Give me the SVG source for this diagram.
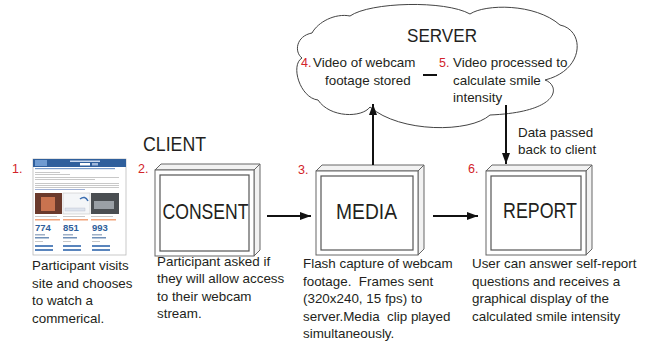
<svg xmlns="http://www.w3.org/2000/svg" width="652" height="348" viewBox="0 0 652 348">
<style>
  text { font-family: "Liberation Sans", Arial, sans-serif; fill: #231f20; white-space: pre; }
  .body { font-size: 13.4px; }
  .num { font-size: 12.5px; fill: #d2232a; }
  .big { font-size: 22px; }
  .bevel { fill: #f2f2f2; stroke: #666; stroke-width: 1; }
  .face { fill: #fff; stroke: #666; stroke-width: 1; }
  .inner { fill: #fff; stroke: #555; stroke-width: 1.2; }
  .conn { stroke: #111; stroke-width: 2; fill: none; }
  .cloud { fill: #fff; stroke: #444; stroke-width: 1; }
  .gl { fill: #c8c8c8; }
</style>
<defs>
  <marker id="ah" markerUnits="userSpaceOnUse" markerWidth="12" markerHeight="10" refX="11" refY="5" orient="auto">
    <path d="M0,1 L11,5 L0,9 z" fill="#111"/>
  </marker>
</defs>

<rect width="652" height="348" fill="#fff"/>

<!-- Server cloud -->
<g id="server">
  <path class="cloud" d="M318,100 C300,98 290,65 302,58 C294,52 296,36 312,33 C318,22 335,13 350,16 C370,2 445,0 470,14 C485,4 535,3 560,25 C585,30 585,70 545,80 C560,85 562,112 490,115 C470,133 400,133 370,107 C362,118 330,118 318,100 Z"/>
  <text x="407" y="42" font-size="19" textLength="70" lengthAdjust="spacingAndGlyphs">SERVER</text>
  <text class="num" x="301" y="67">4.</text>
  <text class="body" x="313" y="67">Video of webcam</text>
  <text class="body" x="325" y="84.5">footage stored</text>
  <text class="num" x="439" y="67">5.</text>
  <text class="body" x="453" y="67">Video processed to</text>
  <text class="body" x="453" y="84.5">calculate smile</text>
  <text class="body" x="453" y="102">intensity</text>
</g>

<!-- Screenshot -->
<g id="site">
  <text class="num" x="12" y="173">1.</text>
  <rect x="33" y="159" width="93" height="96" fill="#fff" stroke="#bbb" stroke-width="0.8"/>
  <rect x="33" y="159" width="93" height="8" fill="#2f5f9c"/>
  <rect x="35" y="160" width="12" height="6" fill="#6f9bd1"/>
  <rect x="70" y="160.5" width="30" height="1.5" fill="#c9d8ee"/>
  <rect x="80" y="163" width="10" height="2.5" fill="#fff"/>
  <rect x="92" y="163" width="6" height="2.5" fill="#9fb8dc"/>
  <rect x="35" y="168" width="80" height="1.2" fill="#7a9cc9"/>
  <rect x="35" y="172" width="25" height="1" class="gl"/>
  <rect x="35" y="174" width="35" height="1" class="gl"/>
  <rect x="35" y="177" width="84" height="1" class="gl"/>
  <rect x="35" y="179" width="60" height="1" class="gl"/>
  <rect x="35" y="183" width="84" height="1" class="gl"/>
  <rect x="35" y="185" width="84" height="1" class="gl"/>
  <rect x="35" y="187" width="84" height="1" class="gl"/>
  <rect x="35" y="189" width="50" height="1" fill="#9fb0d6"/>
  <rect x="35" y="193" width="27" height="21" fill="#6b3a2c"/>
  <rect x="41" y="197" width="14" height="14" fill="#c9734f"/>
  <rect x="63" y="193" width="27" height="21" fill="#f4f6f8" stroke="#bbb" stroke-width="0.5"/>
  <path d="M80,199 q5,-4 8,2" stroke="#3a6db0" stroke-width="1.5" fill="none"/>
  <rect x="65" y="208" width="20" height="3" fill="#dde4ee" stroke="#aab" stroke-width="0.3"/>
  <rect x="91" y="193" width="28" height="21" fill="#4a4e52"/>
  <rect x="94" y="201" width="20" height="8" fill="#9aa0a6"/>
  <rect x="35" y="216" width="22" height="1" class="gl"/>
  <rect x="63" y="216" width="22" height="1" class="gl"/>
  <rect x="91" y="216" width="22" height="1" class="gl"/>
  <rect x="35" y="219" width="25" height="1.5" fill="#f2a37a"/>
  <rect x="63" y="219" width="25" height="1.5" fill="#f2a37a"/>
  <rect x="91" y="219" width="25" height="1.5" fill="#f2a37a"/>
  <text x="35" y="231" font-size="9.5" font-weight="bold" style="fill:#2f5f9c">774</text>
  <text x="63" y="231" font-size="9.5" font-weight="bold" style="fill:#2f5f9c">851</text>
  <text x="92" y="231" font-size="9.5" font-weight="bold" style="fill:#2f5f9c">993</text>
  <rect x="35" y="234" width="10" height="1.5" fill="#9fb0c6"/>
  <rect x="63" y="234" width="10" height="1.5" fill="#9fb0c6"/>
  <rect x="92" y="234" width="10" height="1.5" fill="#9fb0c6"/>
  <rect x="35" y="237" width="14" height="1.5" fill="#6f8fb8"/>
  <rect x="63" y="237" width="14" height="1.5" fill="#6f8fb8"/>
  <rect x="92" y="237" width="14" height="1.5" fill="#6f8fb8"/>
  <rect x="35" y="241" width="8" height="1" class="gl"/>
  <rect x="63" y="241" width="8" height="1" class="gl"/>
  <rect x="92" y="241" width="8" height="1" class="gl"/>
  <rect x="35" y="245" width="18" height="2" fill="#5a85bd"/>
  <rect x="63" y="245" width="18" height="2" fill="#5a85bd"/>
  <rect x="92" y="245" width="18" height="2" fill="#5a85bd"/>
  <rect x="35" y="249" width="18" height="2" fill="#5a85bd"/>
  <rect x="63" y="249" width="18" height="2" fill="#5a85bd"/>
  <rect x="92" y="249" width="18" height="2" fill="#5a85bd"/>
  <text class="body" x="32" y="270">Participant visits</text>
  <text class="body" x="32" y="287.5">site and chooses</text>
  <text class="body" x="32" y="305">to watch a</text>
  <text class="body" x="32" y="322.5">commerical.</text>
</g>

<text id="client-label" x="143" y="151" font-size="20" textLength="63" lengthAdjust="spacingAndGlyphs">CLIENT</text>

<!-- CONSENT -->
<g id="consent">
  <text class="num" x="138" y="173">2.</text>
  <polygon class="bevel" points="155,170 161,164 260,164 254,170"/>
  <polygon class="bevel" points="254,170 260,164 260,250 254,256"/>
  <rect class="face" x="155" y="170" width="99" height="86"/>
  <rect class="inner" x="160" y="175" width="89" height="76"/>
  <text class="big" x="205.5" y="219" text-anchor="middle" textLength="86" lengthAdjust="spacingAndGlyphs">CONSENT</text>
  <text class="body" x="157" y="265.5">Participant asked if</text>
  <text class="body" x="157" y="283">they will allow access</text>
  <text class="body" x="157" y="300.5">to their webcam</text>
  <text class="body" x="157" y="318">stream.</text>
</g>

<!-- MEDIA -->
<g id="media">
  <text class="num" x="298" y="174">3.</text>
  <polygon class="bevel" points="316,171 322,165 424,165 418,171"/>
  <polygon class="bevel" points="418,171 424,165 424,249 418,255"/>
  <rect class="face" x="316" y="171" width="102" height="84"/>
  <rect class="inner" x="321" y="176" width="92" height="74"/>
  <text class="big" x="366.5" y="219" text-anchor="middle" textLength="61" lengthAdjust="spacingAndGlyphs">MEDIA</text>
  <text class="body" x="303" y="268">Flash capture of webcam</text>
  <text class="body" x="303" y="285.5">footage.  Frames sent</text>
  <text class="body" x="303" y="303">(320x240, 15 fps) to</text>
  <text class="body" x="303" y="320.5">server.Media  clip played</text>
  <text class="body" x="303" y="338">simultaneously.</text>
</g>

<!-- REPORT -->
<g id="report">
  <text class="num" x="468" y="173">6.</text>
  <polygon class="bevel" points="486,171 492,165 592,165 586,171"/>
  <polygon class="bevel" points="586,171 592,165 592,249 586,255"/>
  <rect class="face" x="486" y="171" width="100" height="84"/>
  <rect class="inner" x="491" y="176" width="90" height="74"/>
  <text class="big" x="540" y="218" text-anchor="middle" textLength="74" lengthAdjust="spacingAndGlyphs">REPORT</text>
  <text class="body" x="472" y="268">User can answer self-report</text>
  <text class="body" x="472" y="285.5">questions and receives a</text>
  <text class="body" x="472" y="303">graphical display of the</text>
  <text class="body" x="472" y="320.5">calculated smile intensity</text>
</g>

<!-- Connectors -->
<g id="connectors">
  <line class="conn" x1="267" y1="216" x2="311" y2="216" marker-end="url(#ah)"/>
  <line class="conn" x1="433" y1="216" x2="478" y2="216" marker-end="url(#ah)"/>
  <line class="conn" x1="373" y1="165" x2="373" y2="104" marker-end="url(#ah)"/>
  <line class="conn" x1="506" y1="105" x2="506" y2="164" marker-end="url(#ah)"/>
  <line class="conn" x1="423" y1="75" x2="437" y2="75"/>
  <text class="body" x="518" y="137">Data passed</text>
  <text class="body" x="518" y="154">back to client</text>
</g>
</svg>
